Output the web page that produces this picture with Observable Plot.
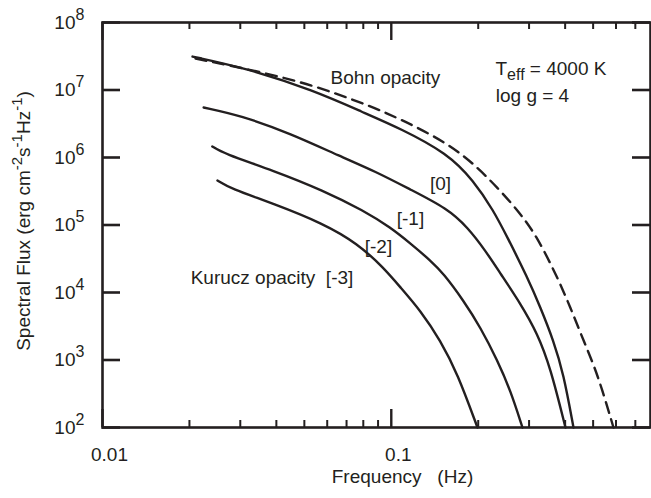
<!DOCTYPE html>
<html><head><meta charset="utf-8">
<script src="https://cdn.jsdelivr.net/npm/d3@7"></script>
<script src="https://cdn.jsdelivr.net/npm/@observablehq/plot@0.6"></script>
<style>body{margin:0;background:#fff} svg{display:block}</style>
</head><body><div id="chart"></div>
<script>
// ---- data (frequency in Hz, spectral flux in erg cm^-2 s^-1 Hz^-1) ----
const bohnFreq = [0.0210, 0.0361, 0.0538, 0.0801, 0.0970, 0.1194, 0.1565, 0.1926, 0.2332, 0.2802, 0.3208, 0.3762, 0.4173, 0.4629, 0.5176, 0.5881];
const bohnFlux = [2.93e7, 1.82e7, 1.17e7, 6.31e6, 4.49e6, 2.98e6, 1.61e6, 8.15e5, 3.59e5, 1.48e5, 6.53e4, 1.67e4, 5.99e3, 1.94e3, 631, 100];

const kur0Freq = [0.0205, 0.0318, 0.0538, 0.0801, 0.1076, 0.1565, 0.1926, 0.2259, 0.2526, 0.2961, 0.3286, 0.3644, 0.3948, 0.4275];
const kur0Flux = [3.13e7, 2.08e7, 9.84e6, 4.64e6, 2.69e6, 1.15e6, 4.56e5, 1.64e5, 6.53e4, 1.67e4, 5.99e3, 1.94e3, 631, 100];

const kurM1Freq = [0.0224, 0.0301, 0.0448, 0.0667, 0.0882, 0.1165, 0.1565, 0.1836, 0.2120, 0.2388, 0.2802, 0.3208, 0.3557, 0.4010];
const kurM1Flux = [5.51e6, 4.19e6, 2.27e6, 1.035e6, 6.21e5, 3.35e5, 1.75e5, 9.3e4, 4.16e4, 1.91e4, 6.87e3, 2.47e3, 774, 100];

const kurM2Freq = [0.0240, 0.0262, 0.0391, 0.0582, 0.0801, 0.0994, 0.1165, 0.1367, 0.1516, 0.1778, 0.2037, 0.2332, 0.2587, 0.2846];
const kurM2Flux = [1.46e6, 1.15e6, 6.41e5, 3.24e5, 1.64e5, 9.18e4, 5.32e4, 2.98e4, 1.91e4, 7.6e3, 3.03e3, 984, 353, 100];

const kurM3Freq = [0.0250, 0.0277, 0.0391, 0.0582, 0.0764, 0.0940, 0.1076, 0.1262, 0.1481, 0.1695, 0.1988];
const kurM3Flux = [4.56e5, 3.47e5, 2.08e5, 1.05e5, 5.32e4, 2.34e4, 1.19e4, 5.41e3, 1.94e3, 631, 100];

// ticks
const xMajor = [0.01, 0.1];
const xMajorLabels = ["0.01", "0.1"];
const xMinor = [0.02, 0.03, 0.04, 0.05, 0.06, 0.07, 0.08, 0.09, 0.2, 0.3, 0.4, 0.5, 0.6, 0.7];
const yTicks = [1e2, 1e3, 1e4, 1e5, 1e6, 1e7, 1e8];
const yTickExp = ["2", "3", "4", "5", "6", "7", "8"];

// annotations
const notesStart = [
  {text: "Bohn opacity", f: 0.0616, F: 1.53e7},
  {text: "TEFF", f: 0.2295, F: 2.05e7},
  {text: "log g = 4", f: 0.2300, F: 8.3e6},
  {text: "Kurucz opacity\u00a0\u00a0[-3]", f: 0.0202, F: 1.67e4}
];
const notesMiddle = [
  {text: "[0]", f: 0.148, F: 4.12e5},
  {text: "[-1]", f: 0.1165, F: 1.25e5},
  {text: "[-2]", f: 0.0903, F: 4.8e4}
];

// ---- build tables ----
const toRows = (name, fs, Fs) => fs.map((f, i) => ({series: name, f, F: Fs[i]}));
const solidRows = [
  ...toRows("[0]", kur0Freq, kur0Flux),
  ...toRows("[-1]", kurM1Freq, kurM1Flux),
  ...toRows("[-2]", kurM2Freq, kurM2Flux),
  ...toRows("[-3]", kurM3Freq, kurM3Flux)
];
const bohnRows = toRows("Bohn", bohnFreq, bohnFlux);

const ink = "#231f20";
const W = 651, H = 498, mL = 102, mR = 1, mT = 22, mB = 71;
const fw = W - mL - mR, fh = H - mT - mB;

const chart = Plot.plot({
  width: W, height: H,
  marginLeft: mL, marginRight: mR, marginTop: mT, marginBottom: mB,
  x: {type: "log", domain: [0.01, 0.79], axis: null},
  y: {type: "log", domain: [1e2, 1e8], axis: null},
  style: {fontFamily: "'Liberation Sans', Arial, Helvetica, sans-serif", background: "#fff", color: ink},
  marks: [
    Plot.line(solidRows, {x: "f", y: "F", z: "series", stroke: ink, strokeWidth: 2.4, curve: "basis"}),
    Plot.line(bohnRows, {x: "f", y: "F", stroke: ink, strokeWidth: 2.4, strokeDasharray: "11,7", curve: "basis"}),
    // ticks (inward)
    Plot.tickX(xMinor, {x: d => d, stroke: ink, strokeWidth: 2, insetTop: fh - 7}),
    Plot.tickX(xMinor, {x: d => d, stroke: ink, strokeWidth: 2, insetBottom: fh - 7}),
    Plot.tickX(xMajor, {x: d => d, stroke: ink, strokeWidth: 2.4, insetTop: fh - 18}),
    Plot.tickX(xMajor, {x: d => d, stroke: ink, strokeWidth: 2.4, insetBottom: fh - 18}),
    Plot.tickY(yTicks, {y: d => d, stroke: ink, strokeWidth: 2.6, insetRight: fw - 18}),
    Plot.tickY(yTicks, {y: d => d, stroke: ink, strokeWidth: 2.6, insetLeft: fw - 18}),
    Plot.frame({stroke: ink, strokeWidth: 2.6}),
    // tick labels
    Plot.text(xMajor, {x: d => d, text: (d, i) => xMajorLabels[i], frameAnchor: "bottom", dy: 27, dx: 7, fontSize: 19, fill: ink, lineAnchor: "middle"}),
    Plot.text(yTicks, {y: d => d, text: () => "10", frameAnchor: "left", textAnchor: "end", dx: -27, fontSize: 19, fill: ink, lineAnchor: "middle"}),
    Plot.text(yTicks, {y: d => d, text: (d, i) => yTickExp[i], frameAnchor: "left", textAnchor: "start", dx: -27, dy: -8, fontSize: 16, fill: ink, lineAnchor: "middle"}),
    // axis titles
    Plot.text(["Frequency\u00a0\u00a0\u00a0(Hz)"], {text: d => d, frameAnchor: "bottom", dx: 26, dy: 49, fontSize: 19, fill: ink, lineAnchor: "middle"}),
    Plot.text(["YLABEL"], {text: d => d, frameAnchor: "left", textAnchor: "middle", rotate: -90, dx: -79, dy: -4, fontSize: 19, fill: ink, lineAnchor: "middle"}),
    // annotations
    Plot.text(notesStart, {x: "f", y: "F", text: "text", textAnchor: "start", fontSize: 19, fill: ink, lineAnchor: "middle"}),
    Plot.text(notesMiddle, {x: "f", y: "F", text: "text", textAnchor: "middle", fontSize: 19, fill: ink, lineAnchor: "middle"})
  ]
});

// rich text (superscripts / subscripts)
const svg = d3.select(chart);
const byText = s => svg.selectAll("text").filter(function () { return this.textContent === s; });
byText("YLABEL").each(function () {
  const t = d3.select(this);
  t.text(null);
  const parts = [["Spectral Flux (erg cm", 0], ["-2", 1], ["s", 0], ["-1", 1], ["Hz", 0], ["-1", 1], [")", 0]];
  let prevSup = false;
  for (const [s, sup] of parts) {
    const ts = t.append("tspan").text(s);
    if (sup) ts.attr("font-size", 15);
    if (sup && !prevSup) ts.attr("dy", "-0.5em");
    else if (!sup && prevSup) ts.attr("dy", "0.4em");
    prevSup = !!sup;
  }
});
byText("TEFF").each(function () {
  const t = d3.select(this);
  t.text(null);
  t.append("tspan").text("T");
  t.append("tspan").text("eff").attr("font-size", 16).attr("dy", "0.3em");
  t.append("tspan").text("\u00a0= 4000 K").attr("dy", "-0.25em");
});

document.getElementById("chart").append(chart);
</script>
</body></html>
